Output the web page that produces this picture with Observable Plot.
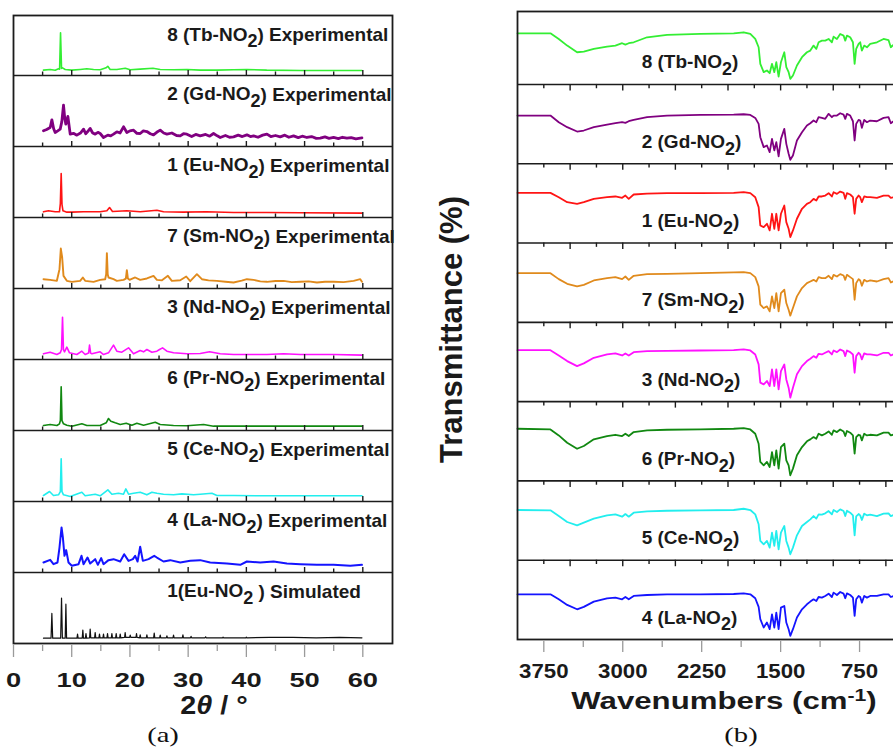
<!DOCTYPE html>
<html><head><meta charset="utf-8">
<script src="https://cdn.jsdelivr.net/npm/d3@7"></script>
<script src="https://cdn.jsdelivr.net/npm/@observablehq/plot@0.6"></script>
<style>
html,body{margin:0;padding:0;background:#fff;overflow:hidden}
#fig{position:relative;width:893px;height:747px;overflow:hidden;background:#fff}
#pa{position:absolute;left:0;top:0;width:400px;height:747px}
#pb{position:absolute;left:400px;top:0;width:560px;height:747px}
</style></head><body>
<div id="fig"><div id="pa"></div><div id="pb"></div></div>
<script>
// ---------------- DATA: (a) powder XRD, panels listed bottom -> top ----------------
const xrdNames = ["1(Eu-NO2 ) Simulated", "4 (La-NO2) Experimental", "5 (Ce-NO2) Experimental",
  "6 (Pr-NO2) Experimental", "3 (Nd-NO2) Experimental", "7 (Sm-NO2) Experimental",
  "1 (Eu-NO2) Experimental", "2 (Gd-NO2) Experimental", "8 (Tb-NO2) Experimental"];
const xrdColors = ["#111111", "#1414ff", "#22eeee", "#118811", "#ff11ff", "#e08a1c", "#ff1414", "#800080", "#33ee33"];
// [2theta, relative intensity]
const xrdSim = [[5.15,7.5],[6.45,7.5],[6.59,42.3],[6.73,7.5],[8.1,7.5],[8.25,63.9],[8.4,7.5],[8.88,7.5],[9.0,55.4],[9.12,7.5],[10.9,7.5],[11.0,13.1],[11.1,7.5],[11.8,7.5],[11.91,18.8],[12.02,7.5],[12.35,7.5],[12.45,14.1],[12.55,7.5],[13.07,8],[13.17,20.2],[13.27,8],[13.93,8],[14.03,15.5],[14.13,8],[14.67,8],[14.77,13.1],[14.87,8],[15.36,8],[15.46,13.1],[15.56,8],[16.05,8],[16.15,14.1],[16.25,8],[16.8,8],[16.9,14.1],[17.0,8],[17.54,8],[17.64,14.1],[17.74,8],[18.23,8],[18.33,13.1],[18.43,8],[19.08,8.5],[19.18,15.5],[19.28,8.5],[19.95,8.5],[20.05,11.7],[20.15,8.5],[21.03,8.5],[21.13,14.1],[21.23,8.5],[21.66,8],[21.76,12.2],[21.86,8],[22.81,8],[22.91,12.2],[23.01,8],[24.07,8],[24.17,14.6],[24.27,8],[25.1,8],[25.2,11.7],[25.3,8],[26.25,8],[26.35,10.8],[26.45,8],[27.39,8],[27.49,11.7],[27.59,8],[29.0,8],[29.1,12.2],[29.2,8],[30.4,8],[30.5,10],[30.6,8],[32.9,8],[33.0,9.4],[33.1,8],[35.9,8],[36.0,9],[36.1,8],[39.9,8],[40.0,9],[40.1,8],[44,8.5],[48,8.5],[52,8],[56,8.5],[59.85,8]];
const xrdLa = [[5.15,14.1],[6.3,17.8],[6.87,11.7],[7.56,14.1],[7.9,35.2],[8.25,63.4],[8.48,49.3],[8.76,23.5],[9.05,31.5],[9.45,14.1],[10.02,9.4],[11.17,11.7],[11.68,23.5],[12.03,11.7],[12.71,21.1],[13.17,12.7],[14.03,18.8],[14.49,10.8],[15.06,20.2],[15.46,11.7],[16.32,17.4],[17.18,18.8],[18.33,15.5],[19.01,25.8],[19.76,16.4],[20.5,18.8],[20.9,23.5],[21.31,15.5],[21.76,36.2],[22.22,16.4],[23.2,18.8],[24.17,23.5],[24.63,21.1],[25.77,15.5],[26.92,17.4],[28.64,14.1],[30.36,16.4],[32.07,17.4],[33.79,14.1],[36.66,12.7],[38.95,10.8],[40.09,15.5],[42.38,14.1],[44.67,15.5],[46.96,12.7],[49.26,11.7],[52.12,10.8],[54.98,10.8],[57.85,9.4],[59.85,10.8]];
const xrdCe = [[5.15,8.5],[6.19,14.1],[6.87,8.5],[7.73,9.4],[8.05,14],[8.19,60.1],[8.33,14],[8.59,9.4],[9.74,7],[11.74,13.1],[12.31,8],[14.03,10.3],[14.89,8],[16.21,16.4],[16.9,10.3],[18.04,11.7],[18.9,10.3],[19.3,17.8],[19.76,10.3],[20.62,11.7],[21.76,13.1],[22.91,9.4],[23.77,13.1],[24.63,11.7],[25.77,10.3],[27.49,9.4],[28.92,10.8],[30.93,9.4],[32.07,10.3],[34.08,11.7],[34.94,8.5],[37.8,8.5],[43.53,8],[49.26,8],[54.98,8],[59.85,8]];
const xrdPr = [[5.15,7],[6.3,8.5],[7.45,7],[7.9,9.4],[8.05,14],[8.19,61.5],[8.33,14],[8.59,9.4],[9.16,7.5],[10.02,6.1],[11.74,9.4],[12.6,7],[14.89,7],[15.92,10.8],[16.32,16.9],[16.72,13.1],[17.47,10.8],[18.33,8.5],[19.36,10.3],[20.33,7.5],[21.19,10.3],[22.34,7.5],[24.34,11.7],[25.2,8.5],[27.49,7],[29.78,6.6],[32.65,8.5],[34.36,6.1],[37.8,6.1],[43.53,6.1],[49.26,6.1],[54.98,6.1],[59.85,6.1]];
const xrdNd = [[5.15,8],[6.3,10.3],[7.45,7],[8.02,9.4],[8.25,14],[8.42,59.6],[8.58,14],[8.76,10.8],[9.16,17.4],[9.62,9.4],[10.88,7],[11.74,11.7],[12.31,7],[12.9,9],[13.06,20.2],[13.25,9],[13.46,8],[14.89,10.8],[15.46,7],[16.32,9.4],[17.18,20.2],[17.75,11.7],[18.61,10.3],[19.76,16.4],[20.62,8],[21.76,12.7],[22.34,10.8],[22.91,14.1],[23.77,10.3],[24.63,11.7],[25.09,14.1],[25.6,16.4],[26.35,11.7],[27.49,9.4],[29.78,8],[32.07,8.5],[33.68,10.8],[35.51,8],[37.8,7],[43.53,7],[46.39,8],[49.26,7],[54.98,7],[59.85,6.1]];
const xrdSm = [[5.15,13.1],[6.3,12.2],[7.45,10.8],[7.9,27.2],[8.13,56.3],[8.36,43.7],[8.59,17.8],[9.16,10.8],[10.02,9.4],[11.45,10.8],[11.91,15.5],[12.31,10.8],[13.75,9.4],[14.89,12.2],[15.75,13.1],[15.92,20],[16.04,49.8],[16.18,20],[16.32,15.5],[17.18,13.1],[17.75,10.8],[18.9,12.2],[19.3,14],[19.47,25.8],[19.65,14],[19.93,12.2],[20.9,15.5],[21.76,12.2],[22.91,14.1],[24.05,17.8],[24.63,12.2],[25.5,11.5],[26.52,17.8],[27.2,10.8],[28.64,11.7],[29.67,16.9],[30.36,10.3],[31.5,20.2],[32.36,13.1],[33.5,11.5],[34.94,10.8],[36.4,9.5],[37.8,8.5],[39.2,11],[40.09,13.1],[41.24,12.2],[42.4,10],[43.53,9.4],[45,10.5],[46.39,10.8],[47.8,9],[49.26,9.4],[50.7,10],[52.12,8.5],[53.5,9.5],[54.98,9.4],[56.7,9],[58.42,10.8],[59.56,13.1],[59.85,9.4]];
const xrdEu = [[5.15,8],[6.0,9.4],[7.16,8],[7.9,8],[8.05,20],[8.19,62],[8.33,18],[8.5,9.4],[9.17,7.5],[10.02,7.5],[12.03,8],[14.89,8],[16.04,9.4],[16.5,14],[17.0,8.5],[19.47,9.4],[21.76,8],[24.63,10.3],[25.77,8],[29.2,7.5],[33.2,8],[37.8,7],[43.53,7],[49.26,6.6],[59.85,6.1]];
const xrdGd = [[5.15,22.1],[5.7,24],[6.3,26.8],[6.59,37.6],[6.9,25],[7.16,19.7],[7.6,22],[8.02,24.4],[8.3,35],[8.59,58.2],[8.8,40],[8.99,31.5],[9.34,42.3],[9.74,17.4],[10.3,18.5],[10.88,16],[11.5,19],[12.03,24.4],[12.4,18],[12.71,20.7],[13.17,25.4],[13.6,19],[14.03,17.4],[14.5,20],[14.89,18.3],[15.46,12.7],[16.2,16],[16.7,15],[17.18,17.4],[17.75,20.7],[18.3,19],[18.9,27.7],[19.47,19.7],[20.0,22],[20.62,23],[21.2,18.5],[21.76,18.3],[22.3,22],[22.91,21.1],[23.5,18],[24.05,16.4],[24.6,20],[25.2,23],[25.8,19],[26.35,17.4],[27.2,19],[28.0,15.5],[28.64,15],[29.2,18],[29.78,17.4],[30.6,14],[31.3,17],[32.07,15],[33.0,17],[33.7,14.5],[34.36,18.3],[35.0,15],[35.51,12.7],[36.4,15.5],[37.1,13],[37.8,13.6],[38.6,16],[39.3,14],[40.09,16.4],[40.7,14],[41.24,15],[42.0,13],[42.8,16],[43.53,17.4],[44.2,14],[45.0,15.5],[45.82,13.6],[46.6,16],[47.3,13],[48.11,15],[48.9,12.5],[49.6,14.5],[50.4,12.7],[51.2,14],[52.0,11.5],[52.69,11.7],[53.5,13.5],[54.2,11.5],[54.98,12.7],[55.8,11],[56.5,13],[57.27,11.7],[58.0,12.5],[58.8,10.8],[59.56,11.7],[59.85,12]];
const xrdTb = [[5.15,7.5],[6.3,8.5],[7.16,7.5],[7.73,9.4],[7.92,9],[8.08,60],[8.25,10],[8.42,10.8],[8.88,8.5],[10.0,7.5],[11.45,8.5],[12.6,9.4],[13.75,8.5],[14.9,8],[15.9,10.8],[16.2,13],[16.6,8.5],[17.75,8.5],[19.2,10.3],[20.05,8],[21.75,9],[23.95,10.3],[25.2,8.5],[27.5,8],[29.8,8.5],[32.1,7.5],[34.9,7.5],[37.8,8],[40.1,8.5],[43.5,7.5],[49.3,7],[55,7],[59.85,7]];
const xrdSeries = [xrdSim, xrdLa, xrdCe, xrdPr, xrdNd, xrdSm, xrdEu, xrdGd, xrdTb];
const xrdTickLabels = [0, 10, 20, 30, 40, 50, 60];
const xrdMinorTicks = [5, 15, 25, 35, 45, 55];
const xrdSepMajor = [10, 20, 30, 40, 50, 60];
const xrdSepMinor = [5, 15, 25, 35, 45, 55];

// ---------------- DATA: (b) FTIR, panels listed bottom -> top ----------------
const irNames = ["4 (La-NO2)", "5 (Ce-NO2)", "6 (Pr-NO2)", "3 (Nd-NO2)", "7 (Sm-NO2)", "1 (Eu-NO2)", "2 (Gd-NO2)", "8 (Tb-NO2)"];
const irColors = ["#1414ff", "#22eeee", "#118811", "#ff11ff", "#e08a1c", "#ff1414", "#800080", "#33ee33"];
const irWave = [4000,3687,3608,3528,3434,3370,3275,3149,3070,3006,2975,2943,2896,2769,2579,2263,1946,1851,1788,1741,1709,1693,1661,1630,1604,1582,1560,1541,1519,1497,1465,1446,1424,1408,1383,1345,1297,1250,1218,1187,1161,1139,1108,1076,1044,1013,997,965,934,902,886,870,839,813,797,782,759,744,728,706,680,649,585,522,475,453,400];
const irLa = [57,57,50.7,43.6,38.1,41.1,47.8,51.9,52.8,50.7, 53.6,50.7,54.9,56.1,57,57,57.4,58.2,57,52, 41.1,25.6,15.1,21.4,13,31.8,15.1,33.9,13,40.2, 42.3,21.4,13,4.6,13,27.7,38.1,44.4,47.8,50.7, 48.6,53.6,52.8,54.9,57.8,53.6,59.1,56.1,59.9,57.8, 52,58.2,56.1,52.8,29.7,50.7,54.9,53.6,46.5,54.9, 52.8,54.9,54.9,57,57,53.6,56.1];
const irCe = [63.3,62.9,55.7,48.2,44,47.3,52.4,56.6,57.8,54.9, 58.2,54.9,59.9,61.6,62.4,62.9,63.3,64.9,63.3,57.8, 45.3,24.3,20.1,24.3,15.9,34.8,18,36.9,13.8,34.8, 43.2,24.3,15.9,7.5,15.9,31.4,43.2,48.2,51.5,55.7, 52.4,57.8,57.4,59.1,62,57.8,63.3,60.8,64.1,62, 55.7,62.4,59.9,56.6,31.4,55.3,58.2,56.6,50.7,58.7, 56.6,57.4,55.7,58.7,59.1,55.7,58.2];
const irPr = [65.8,64.9,57.4,48.2,40.6,44,52.4,56.6,58.2,56.6, 59.5,56.6,61.6,63.7,64.5,64.9,65.8,66.6,64.9,59.5, 46.9,23.9,19.7,23.9,17.6,36.4,19.7,38.5,15.5,42.7, 46.9,26,19.7,7.1,15.5,32.3,42.7,49.9,52.4,55.3, 53.2,59.5,57.4,59.5,62.4,58.2,63.7,61.6,64.9,62.4, 56.6,62.9,60.8,57.4,34.4,55.3,58.2,57.4,51.1,59.5, 57.4,58.2,57.4,60.8,60.8,57.4,59.5];
const irNd = [64.9,64.9,58.2,51.1,44.8,48.2,55.3,59.5,60.8,58.2, 60.8,58.2,62.4,63.7,64.1,64.5,64.9,65.8,64.5,59.5, 47,23.9,21.8,26,19.7,40.6,19.7,40.6,15.5,38.5, 46.9,28,17.6,5,17.6,34.4,44.8,51.1,54,57.4, 55.3,60.3,59.5,61.6,63.7,59.5,64.5,62.4,65.8,63.7, 57.4,64.5,62.4,59.5,36.4,57.4,61.6,59.5,53.2,60.8, 59.5,59.5,58.2,61.6,61.6,58.2,61.6];
const irSm = [62,62,54.5,48.6,45.3,47.3,52.8,55.7,57,54.5, 57.8,53.6,58.7,60.8,61.2,62,62.9,63.3,62,57, 45.3,22.2,18,20.1,13.8,32.7,18,36.9,13.8,36.9, 41.1,24.3,15.9,8.4,18,32.7,43.2,49.4,51.5,53.6, 51.5,57,55.7,55.7,58.7,54.5,59.9,57.8,60.8,59.1, 53.6,59.9,57,54.5,28.5,49.4,54.5,52.8,46.1,53.6, 51.5,52.8,51.5,54.5,55.7,50.3,53.6];
const irEu = [63.3,63.3,57.8,51.5,49.4,51.5,55.7,57.8,58.7,57, 59.9,55.7,61.2,62.4,62.9,62.9,63.3,64.1,62.9,57.8, 45.3,22.2,20.1,24.3,15.9,36.9,18,36.9,15.9,36.9, 47.3,26.4,18,7.5,15.9,30.6,43.2,49.4,51.5,55.7, 53.6,58.7,58.7,59.9,62.9,58.7,64.1,62,64.9,63.3, 55.7,62.9,61.2,57.8,36.9,55.7,59.9,57.8,51.5,58.7, 57.8,57.8,57,59.9,59.9,57,58.7];
const irGd = [60.8,60.8,52.4,46.1,40.6,41.9,46.1,49.4,51.1,52.4, 51.5,53.6,55.3,58.7,60.8,61.6,62,62.4,61.6,57.8, 50.3,33.5,21,23,14.7,31.4,16.8,27.2,9.2,31.4, 44,25.1,12.6,5,10.5,29.3,39.8,48.2,51.1,54.5, 52.4,58.7,57.8,56.6,62.9,58.7,60.8,60.8,63.7,62, 56.6,62.9,60.8,53.6,29.3,50.3,55.3,54.5,45.3,55.3, 52.4,54.5,53.6,57.8,58.7,51.1,56.6];
const irTb = [64.5,64.5,57.4,49,40.6,41.5,44.8,47.8,49,52, 50.3,52,53.2,59.5,62.4,63.7,64.5,65.8,63.7,57.4, 46.9,26,15.5,17.6,14.2,26,15.5,28,10,28, 40.6,21.8,15.5,7.1,11.3,23.9,34.4,40.6,42.7,49, 44.8,53.2,55.3,55.3,57.4,53.2,60.3,57.4,63.7,61.6, 55.3,61.6,59.5,53.2,26,44.8,51.1,53.2,42.7,49, 46.9,51.1,53.2,57.4,56,46.9,53.2];
const irSeries = [irLa, irCe, irPr, irNd, irSm, irEu, irGd, irTb];
const irTickLabels = [3750, 3000, 2250, 1500, 750];
const irMinorTicks = [3375, 2625, 1875, 1125, 375];
const irSepMajor = [3500, 3000, 2500, 2000, 1500, 1000, 500];
const irSepMinor = [3750, 3250, 2750, 2250, 1750, 1250, 750];

// ---------------- LAYOUT ----------------
const H = 747;
const ink = "#1c1c1c";
const sans = "'Liberation Sans', Arial, Helvetica, sans-serif";
const serif = "'Liberation Serif', 'Times New Roman', serif";
const LA = {width: 400, ml: 13, mr: 8, mt: 15, mb: 104, xDomain: [0, 65.1], yTop: 8.845, labelX: 26.4};
const LB = {width: 560, ml: 117, mr: 22, mt: 11, mb: 108, xDomain: [4000, 0], yTop: 7.92, labelX: 2820};
const unitA = (H - LA.mt - LA.mb) / LA.yTop;
const unitB = (H - LB.mt - LB.mb) / LB.yTop;
const xrdWidths = [1.2, 2.0, 1.6, 1.6, 1.6, 1.9, 1.6, 2.8, 1.6];

const ticks = (vals, y1, y2) => vals.map(x => ({x, y1, y2}));

// ---- panel (a)
const aSeps = d3.range(1, xrdSeries.length);
const aSepTicks = aSeps.flatMap(b => [...ticks(xrdSepMajor, b, b + 5 / unitA), ...ticks(xrdSepMinor, b, b + 3.5 / unitA)]);
const aAxisTicks = [...ticks(xrdTickLabels, -2 / unitA, -14 / unitA), ...ticks(xrdMinorTicks, -2 / unitA, -8 / unitA)];
const aLabels = xrdNames.map((name, i) => ({name, x: LA.labelX, y: Math.min(i + 1, LA.yTop)}));

const plotA = Plot.plot({
  width: LA.width, height: H, marginLeft: LA.ml, marginRight: LA.mr, marginTop: LA.mt, marginBottom: LA.mb,
  x: {domain: LA.xDomain, axis: null},
  y: {domain: [0, LA.yTop], axis: null},
  style: {background: "transparent", maxWidth: "none", overflow: "visible", fontFamily: sans},
  marks: [
    ...xrdSeries.map((pts, i) => Plot.line(pts.map(([x, v]) => ({x, y: i + v / 100})),
      {x: "x", y: "y", stroke: xrdColors[i], strokeWidth: xrdWidths[i], strokeLinejoin: "round"})),
    Plot.ruleY(aSeps, {stroke: ink, strokeWidth: 1.6}),
    Plot.ruleX(aSepTicks, {x: "x", y1: "y1", y2: "y2", stroke: ink, strokeWidth: 1.4}),
    Plot.ruleX(aAxisTicks, {x: "x", y1: "y1", y2: "y2", stroke: "#9a9a9a", strokeWidth: 1.3}),
    Plot.frame({stroke: ink, strokeWidth: 1.8}),
    Plot.text(aLabels, {x: "x", y: "y", text: "name", textAnchor: "start", lineAnchor: "bottom", dy: 25,
      fontSize: 19, fontWeight: "bold", fontFamily: sans, fill: "#1a1a1a"}),
    Plot.text(xrdTickLabels, {x: d => d, text: d => String(d), frameAnchor: "bottom", lineAnchor: "bottom", dy: 43,
      fontSize: 21, fontWeight: "bold", fontFamily: sans, fill: "#1a1a1a", ariaDescription: "sx:1.3"}),
    Plot.text(["2θ / °"], {frameAnchor: "bottom", textAnchor: "middle", lineAnchor: "bottom", dx: 11, dy: 70,
      fontSize: 25, fontWeight: "bold", fontFamily: sans, fill: "#1a1a1a", ariaDescription: "sx:1.15"}),
    Plot.text(["(a)"], {frameAnchor: "bottom", textAnchor: "middle", lineAnchor: "bottom", dx: -40, dy: 98,
      fontSize: 22, fontFamily: serif, fill: "#111", ariaDescription: "sx:1.3"})
  ]
});

// ---- panel (b)
const bSeps = d3.range(1, irSeries.length);
const bSepTicks = bSeps.flatMap(b => [...ticks(irSepMajor, b, b - 6.5 / unitB), ...ticks(irSepMinor, b, b - 4.3 / unitB)]);
const bAxisTicks = [...ticks(irTickLabels, -2 / unitB, -13 / unitB), ...ticks(irMinorTicks, -2 / unitB, -8 / unitB)];
const bLabels = irNames.map((name, i) => ({name, x: LB.labelX, y: i}));

const plotB = Plot.plot({
  width: LB.width, height: H, marginLeft: LB.ml, marginRight: LB.mr, marginTop: LB.mt, marginBottom: LB.mb,
  x: {domain: LB.xDomain, axis: null},
  y: {domain: [0, LB.yTop], axis: null},
  style: {background: "transparent", maxWidth: "none", overflow: "visible", fontFamily: sans},
  marks: [
    ...irSeries.map((vals, i) => Plot.line(irWave.map((w, k) => ({x: w, y: i + vals[k] / 100})),
      {x: "x", y: "y", stroke: irColors[i], strokeWidth: 1.8, strokeLinejoin: "round"})),
    Plot.ruleY(bSeps, {stroke: ink, strokeWidth: 1.6}),
    Plot.ruleX(bSepTicks, {x: "x", y1: "y1", y2: "y2", stroke: ink, strokeWidth: 1.4}),
    Plot.ruleX(bAxisTicks, {x: "x", y1: "y1", y2: "y2", stroke: "#9a9a9a", strokeWidth: 1.3}),
    Plot.frame({stroke: ink, strokeWidth: 1.8}),
    Plot.text(bLabels, {x: "x", y: "y", text: "name", textAnchor: "start", lineAnchor: "bottom", dy: -16,
      fontSize: 19, fontWeight: "bold", fontFamily: sans, fill: "#1a1a1a"}),
    Plot.text(irTickLabels, {x: d => d, text: d => String(d), frameAnchor: "bottom", lineAnchor: "bottom", dy: 38,
      fontSize: 21, fontWeight: "bold", fontFamily: sans, fill: "#1a1a1a", ariaDescription: "sx:1.06"}),
    Plot.text(["Wavenumbers (cm-1)"], {frameAnchor: "bottom", textAnchor: "middle", lineAnchor: "bottom", dx: -4, dy: 69,
      fontSize: 24, fontWeight: "bold", fontFamily: sans, fill: "#1a1a1a", ariaDescription: "sx:1.3"}),
    Plot.text(["(b)"], {frameAnchor: "bottom", textAnchor: "middle", lineAnchor: "bottom", dx: 13, dy: 102,
      fontSize: 22, fontFamily: serif, fill: "#111", ariaDescription: "sx:1.3"}),
    Plot.text(["Transmittance (%)"], {frameAnchor: "left", textAnchor: "middle", rotate: -90, lineAnchor: "middle", dx: -65, dy: 4,
      fontSize: 31, fontWeight: "bold", fontFamily: sans, fill: "#1a1a1a"})
  ]
});

// ---- rich text (subscripts / superscripts / italic) and horizontal stretch
function enrich(svg) {
  d3.select(svg).selectAll("text").each(function () {
    const s = this.textContent;
    if (!/NO2|cm-1|θ/.test(s)) return;
    const parts = s.split(/(NO2|cm-1|θ)/).filter(p => p !== "");
    const t = d3.select(this);
    t.text(null);
    let cur = 0;
    const span = (str, size = 1, shift = 0, italic = false) => {
      const ts = t.append("tspan").text(str);
      if (size !== 1) ts.attr("font-size", `${size * 100}%`);
      if (shift !== cur) ts.attr("dy", `${((shift - cur) / size).toFixed(3)}em`);
      if (italic) ts.attr("font-style", "italic");
      cur = shift;
    };
    for (const p of parts) {
      if (p === "NO2") { span("NO"); span("2", 0.95, 0.36); }
      else if (p === "cm-1") { span("cm"); span("-1", 0.68, -0.32); }
      else if (p === "θ") span("θ", 1, 0, true);
      else span(p);
    }
  });
  d3.select(svg).selectAll("g[aria-description]").each(function () {
    const m = /^sx:([\d.]+)/.exec(this.getAttribute("aria-description"));
    if (!m) return;
    d3.select(this).selectAll("text").attr("transform", function () {
      return (this.getAttribute("transform") || "") + ` scale(${m[1]},1)`;
    });
    this.removeAttribute("aria-description");
  });
}
enrich(plotA); enrich(plotB);
document.getElementById("pa").append(plotA);
document.getElementById("pb").append(plotB);
</script>
</body></html>
